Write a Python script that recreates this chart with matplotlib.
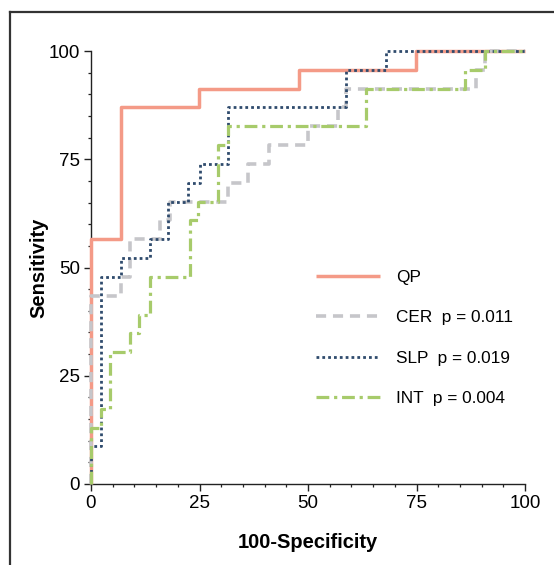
import matplotlib
matplotlib.use("Agg")
import matplotlib.pyplot as plt
from matplotlib.lines import Line2D
from matplotlib.ticker import MultipleLocator

plt.rcParams['font.family'] = ['Liberation Sans', 'DejaVu Sans']

# ROC corner points (100-Specificity, Sensitivity), drawn as post-steps
qp_x = [0, 0, 6.9, 24.9, 47.9, 74.9, 100]
qp_y = [0, 56.52, 86.96, 91.30, 95.65, 100, 100]

cer_x = [0, 0, 6.8, 9.0, 15.9, 18.2, 31.6, 36.2, 40.9, 50.0, 56.8, 58.8, 88.7, 90.8, 100]
cer_y = [0, 43.48, 47.83, 56.52, 60.87, 65.22, 69.57, 73.91, 78.26, 82.61, 86.96, 91.30, 95.65, 100, 100]

slp_x = [0, 0, 2.3, 6.8, 13.6, 17.8, 22.4, 25.0, 31.6, 58.8, 68.0, 100]
slp_y = [0, 8.70, 47.83, 52.17, 56.52, 65.22, 69.57, 73.91, 86.96, 95.65, 100, 100]

int_x = [0, 0, 2.3, 4.4, 9.0, 11.1, 13.6, 22.8, 24.7, 29.3, 31.6, 63.4, 86.2, 90.8, 100]
int_y = [0, 13.04, 17.39, 30.43, 34.78, 39.13, 47.83, 60.87, 65.22, 78.26, 82.61, 91.30, 95.65, 100, 100]

labels = ["QP", "CER  p = 0.011", "SLP  p = 0.019", "INT  p = 0.004"]
ticks = [0, 25, 50, 75, 100]

W, H = 554, 565
fig = plt.figure(figsize=(W / 100, H / 100), dpi=100)
ax = fig.add_axes([91 / W, 1 - 484 / H, 434 / W, 433 / H])

ax.plot(qp_x, qp_y, drawstyle='steps-post', color='#F49A87', lw=2.5,
        solid_capstyle='butt', label=labels[0], clip_on=False, zorder=3)
ax.plot(cer_x, cer_y, drawstyle='steps-post', color='#C6C6CA', lw=2.6,
        linestyle=(0, (2.8, 1.9)), label=labels[1], clip_on=False, zorder=4)
ax.plot(slp_x, slp_y, drawstyle='steps-post', color='#2F4B6D', lw=2.0,
        linestyle=(0, (1, 1.1)), label=labels[2], clip_on=False, zorder=5)
ax.plot(int_x, int_y, drawstyle='steps-post', color='#A7CB6B', lw=2.3,
        linestyle=(0, (4, 1.5, 1, 1.5)), label=labels[3], clip_on=False, zorder=6)

ax.set_xlim(0, 100)
ax.set_ylim(0, 100)
ax.set_xticks(ticks)
ax.set_yticks(ticks)
ax.xaxis.set_minor_locator(MultipleLocator(5))
ax.yaxis.set_minor_locator(MultipleLocator(5))
for s in ['top', 'right']:
    ax.spines[s].set_visible(False)
for s in ['left', 'bottom']:
    ax.spines[s].set_linewidth(1.0)
    ax.spines[s].set_color('#222222')
ax.tick_params(which='major', direction='out', length=5, width=1.0, labelsize=13.5,
               colors='#222222', labelcolor='black', pad=3)
ax.tick_params(which='minor', direction='out', length=2.5, width=0.9, colors='#222222')

ax.set_xlabel("100-Specificity", fontsize=14.5, fontweight='bold', labelpad=15)
ax.set_ylabel("Sensitivity", fontsize=14.5, fontweight='bold', labelpad=0)

leg = ax.legend(loc='upper left', bbox_to_anchor=(225 / 434, (484 - 270) / 433),
                frameon=False, fontsize=12.4, handlelength=3.7, handletextpad=0.95,
                labelspacing=1.47, borderaxespad=0, borderpad=0)

# partial frame around figure (left and top edges visible)
fig.add_artist(Line2D([9.5 / W, 9.5 / W], [0, 1 - 11.5 / H], transform=fig.transFigure,
                      color='#333333', lw=1.6))
fig.add_artist(Line2D([9.5 / W, 1], [1 - 11.5 / H, 1 - 11.5 / H], transform=fig.transFigure,
                      color='#333333', lw=1.6))

fig.savefig("out.png", dpi=100)
